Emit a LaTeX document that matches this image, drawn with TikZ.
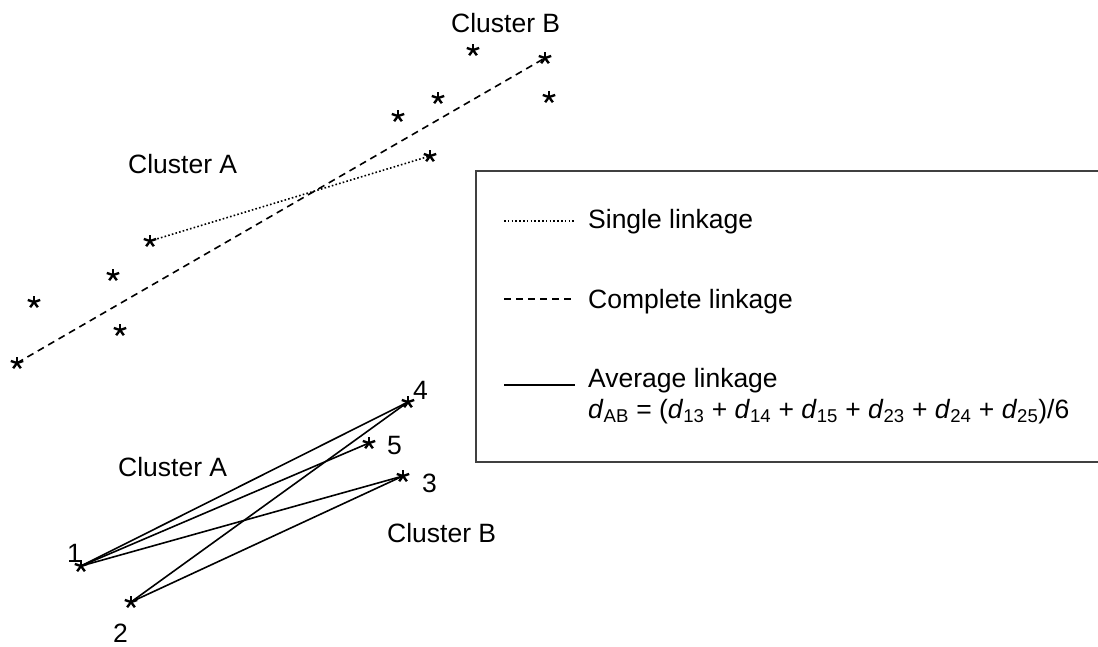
\documentclass[tikz,border=0pt]{standalone}
\usepackage{fontspec}
\setmainfont{Liberation Sans}
\begin{document}
\begin{tikzpicture}[x=1pt,y=-1pt,
  lbl/.style={font=\fontsize{26.5}{31}\selectfont, inner sep=0pt, anchor=base west},
  ast/.style={circle, inner sep=0pt, minimum size=18pt,
    path picture={\foreach \a in {90,18,162,234,306}
      \draw[line width=2.4pt] (path picture bounding box.center) -- ++(\a:6.5pt);}},
  link/.style={line width=1.6pt},
  sdot/.style={link, dash pattern=on 1.6pt off 2.2pt},
  sdash/.style={link, dash pattern=on 7pt off 5pt},
  legbox/.style={draw=black!75, line width=1.6pt}
]
\useasboundingbox (0,0) rectangle (1098,646);
% legend box (right side runs off the picture)
\draw[legbox] (476,171) rectangle (1110,462);

% ---- top: clusters with single & complete linkage
\node[ast] (t1) at (473,50) {};
\node[ast] (t2) at (545,58) {};
\node[ast] (t3) at (549,97) {};
\node[ast] (t4) at (398,116) {};
\node[ast] (t5) at (438,98) {};
\node[ast] (t6) at (430,156) {};
\node[ast] (t7) at (150,241) {};
\node[ast] (t8) at (113,275) {};
\node[ast] (t9) at (34,302) {};
\node[ast] (t10) at (120,330) {};
\node[ast] (t11) at (17,363) {};
\draw[sdash] (t11.center) -- (t2.center);
\draw[sdot] (t7.center) -- (t6.center);
\node[lbl] (cbt) at (451,32) {Cluster B};
\node[lbl] (cat) at (128,173) {Cluster A};

% ---- bottom: average linkage
\node[ast] (p1) at (81,566) {};
\node[ast] (p2) at (131,602) {};
\node[ast] (p3) at (403,476) {};
\node[ast] (p4) at (408,402) {};
\node[ast] (p5) at (369,443) {};
\draw[link] (p1.center) -- (p4.center);
\draw[link] (p1.center) -- (p5.center);
\draw[link] (p1.center) -- (p3.center);
\draw[link] (p2.center) -- (p4.center);
\draw[link] (p2.center) -- (p3.center);
\node[lbl] (n1) at (67,562) {1};
\node[lbl] (n2) at (113,642) {2};
\node[lbl] (n3) at (422,492) {3};
\node[lbl] (n4) at (413,399) {4};
\node[lbl] (n5) at (387,454) {5};
\node[lbl] (cab) at (118,476) {Cluster A};
\node[lbl] (cbb) at (387,542) {Cluster B};

% ---- legend
\coordinate (la1) at (504,221); \coordinate (lb1) at (575,221);
\coordinate (la2) at (504,299); \coordinate (lb2) at (575,299);
\coordinate (la3) at (504,385); \coordinate (lb3) at (575,385);
\draw[sdot] (la1) -- (lb1);
\draw[sdash] (la2) -- (lb2);
\draw[link] (la3) -- (lb3);
\node[lbl] (ls) at (588,228) {Single linkage};
\node[lbl] (lc) at (588,308) {Complete linkage};
\node[lbl] (la) at (588,387) {Average linkage};
\node[lbl] (lf) at (588,418) {\textit{d}\textsubscript{AB} = (\textit{d}\textsubscript{13} + \textit{d}\textsubscript{14} + \textit{d}\textsubscript{15} + \textit{d}\textsubscript{23} + \textit{d}\textsubscript{24} + \textit{d}\textsubscript{25})/6};
\end{tikzpicture}
\end{document}
